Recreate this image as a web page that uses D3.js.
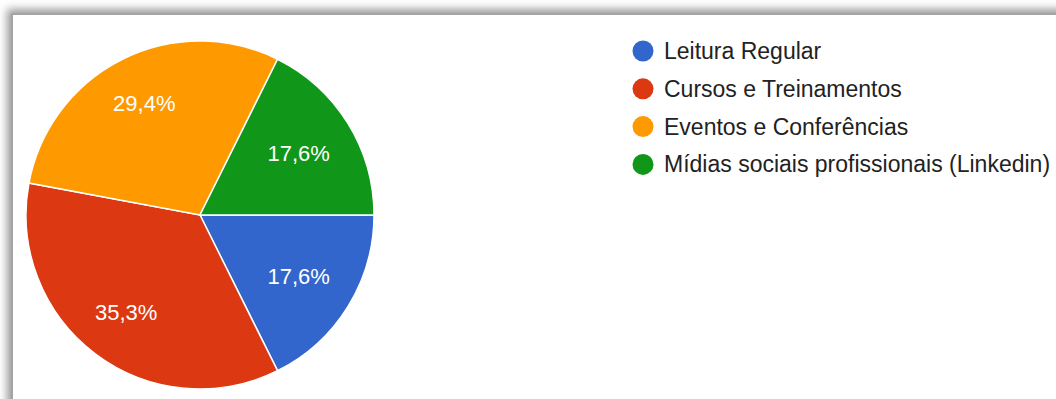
<!DOCTYPE html>
<html>
<head>
<meta charset="utf-8">
<script src="https://cdn.jsdelivr.net/npm/d3@7"></script>
<style>
  html, body { margin: 0; padding: 0; background: #fff; }
  svg { display: block; }
</style>
</head>
<body>
<svg id="chart" width="1056" height="399"></svg>
<script>
// Survey answers: how professionals keep up to date
const categories = ["Leitura Regular", "Cursos e Treinamentos", "Eventos e Conferências", "Mídias sociais profissionais (Linkedin)"];
const counts = [3, 6, 5, 3];
const colors = ["#3366cc", "#dc3912", "#ff9900", "#109618"];

const W = 1056, H = 399;
const svg = d3.select("#chart");

// Card frame with a soft drop shadow on its top and left edges
const defs = svg.append("defs");
const blur = defs.append("filter").attr("id", "shadow")
  .attr("x", "-5%").attr("y", "-5%").attr("width", "110%").attr("height", "110%");
blur.append("feGaussianBlur").attr("stdDeviation", 4);

svg.append("rect").attr("x", 7).attr("y", 9).attr("width", W + 40).attr("height", H + 40)
  .attr("fill", "#9a9a9a").attr("filter", "url(#shadow)");
svg.append("rect").attr("x", 11).attr("y", 13).attr("width", W + 40).attr("height", H + 40)
  .attr("fill", "#a4a4a4");
svg.append("rect").attr("x", 13).attr("y", 15).attr("width", W + 40).attr("height", H + 40)
  .attr("fill", "#ffffff");

// Pie
const cx = 200, cy = 215, r = 174;
const total = d3.sum(counts);
const pie = d3.pie().sort(null).value(d => d)
  .startAngle(Math.PI / 2).endAngle(Math.PI / 2 + 2 * Math.PI);
const arcs = pie(counts);
const arc = d3.arc().innerRadius(0).outerRadius(r);

const g = svg.append("g").attr("transform", `translate(${cx},${cy})`);
g.selectAll("path.slice").data(arcs).join("path")
  .attr("class", "slice")
  .attr("d", arc)
  .attr("fill", (d, i) => colors[i])
  .attr("stroke", "#ffffff")
  .attr("stroke-width", 1.5);

// Label sits along the slice bisector, pushed out a little more where the
// bisector is close to vertical (text box is wider than tall)
function labelPos(d) {
  const a = (d.startAngle + d.endAngle) / 2;
  const rr = r * 0.593 + r * 0.14 * Math.abs(Math.cos(a));
  return [Math.sin(a) * rr, -Math.cos(a) * rr];
}

const fmt = v => (v / total * 100).toFixed(1).replace(".", ",") + "%";
g.selectAll("text.pct").data(arcs).join("text")
  .attr("class", "pct")
  .attr("transform", d => `translate(${labelPos(d)})`)
  .attr("text-anchor", "middle")
  .attr("dominant-baseline", "central")
  .attr("font-family", "Arial, 'Liberation Sans', sans-serif")
  .attr("font-size", 22)
  .attr("fill", "#ffffff")
  .text(d => fmt(d.value));

// Legend
const legend = svg.append("g").attr("transform", "translate(643,51)");
const rows = legend.selectAll("g").data(categories).join("g")
  .attr("transform", (d, i) => `translate(0,${i * 37.8})`);
rows.append("circle").attr("r", 10.5).attr("fill", (d, i) => colors[i]);
rows.append("text")
  .attr("x", 21)
  .attr("dominant-baseline", "central")
  .attr("font-family", "Arial, 'Liberation Sans', sans-serif")
  .attr("font-size", 23)
  .attr("fill", "#222222")
  .text(d => d);
</script>
</body>
</html>
